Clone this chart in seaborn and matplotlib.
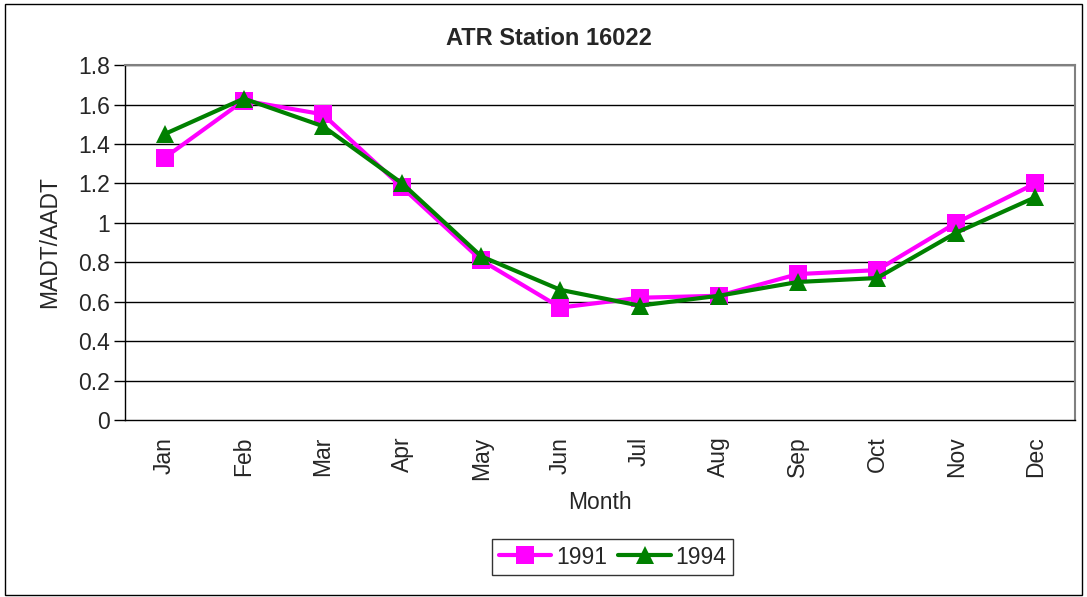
import numpy as np
import pandas as pd
import matplotlib
matplotlib.use("Agg")
import matplotlib.pyplot as plt
import seaborn as sns
from matplotlib.patches import Rectangle

months = ["Jan", "Feb", "Mar", "Apr", "May", "Jun",
          "Jul", "Aug", "Sep", "Oct", "Nov", "Dec"]
vals_1991 = [1.33, 1.62, 1.55, 1.18, 0.81, 0.57, 0.62, 0.63, 0.74, 0.76, 1.00, 1.20]
vals_1994 = [1.45, 1.63, 1.49, 1.20, 0.83, 0.66, 0.58, 0.63, 0.70, 0.72, 0.95, 1.13]
years = ["1991", "1994"]
y_ticks = [0, 0.2, 0.4, 0.6, 0.8, 1, 1.2, 1.4, 1.6, 1.8]
y_tick_labels = ["0", "0.2", "0.4", "0.6", "0.8", "1", "1.2", "1.4", "1.6", "1.8"]

df = pd.DataFrame({
    "Month": months * 2,
    "value": vals_1991 + vals_1994,
    "year": [years[0]] * 12 + [years[1]] * 12,
})
df["pos"] = list(range(12)) * 2

sns.set_style("white")
plt.rcParams["font.family"] = ["Liberation Sans", "DejaVu Sans"]
fs = 16.5

fig = plt.figure(figsize=(10.87, 5.97), dpi=100)
ax = fig.add_axes([0.115, 0.2965, 0.874, 0.5945])

# gridlines behind the data
for yv in y_ticks[1:]:
    ax.axhline(yv, color="black", lw=1, zorder=0)

sns.lineplot(data=df, x="pos", y="value", hue="year", style="year",
             palette={"1991": "#FF00FF", "1994": "#008000"},
             markers={"1991": "s", "1994": "^"}, dashes=False,
             lw=3, markersize=13, markeredgewidth=0, sort=False,
             ax=ax, legend=True)

ax.set_xlim(-0.5, 11.5)
ax.set_ylim(0, 1.8)
ax.set_yticks(y_ticks)
ax.set_yticklabels(y_tick_labels, fontsize=fs)
ax.set_xticks(range(12))
ax.set_xticklabels(months, rotation=90, fontsize=fs)
ax.set_xticks(np.arange(-0.5, 12, 1), minor=True)
ax.tick_params(axis="x", which="major", length=0, pad=12)
ax.tick_params(axis="x", which="minor", length=6, width=1, color="black", direction="out")
ax.tick_params(axis="y", length=8, width=1, color="black", direction="out", left=True, pad=3)

ax.set_xlabel("Month", fontsize=fs, labelpad=8)
ax.set_ylabel("MADT/AADT", fontsize=fs, labelpad=12)
# title is centred on the whole chart, not on the plot area
fig.text(0.505, 0.935, "ATR Station 16022", fontsize=17, fontweight="bold",
         ha="center", va="center")

for side in ["left", "bottom"]:
    ax.spines[side].set_color("black")
    ax.spines[side].set_linewidth(1)
for side in ["top", "right"]:
    ax.spines[side].set_visible(True)
    ax.spines[side].set_color("#808080")
    ax.spines[side].set_linewidth(1.5)

handles, labels = ax.get_legend_handles_labels()
ax.get_legend().remove()
leg = fig.legend(handles, labels, loc="center", bbox_to_anchor=(0.5635, 0.067),
                 ncol=2, fontsize=fs, frameon=True, fancybox=False,
                 handlelength=2.3, columnspacing=0.5, handletextpad=0.2,
                 borderpad=0.3, borderaxespad=0)
leg.get_frame().set_edgecolor("black")
leg.get_frame().set_linewidth(1)

fig.patches.append(Rectangle((0.005, 0.003), 0.99, 0.99, transform=fig.transFigure,
                             fill=False, edgecolor="black", lw=1))

fig.savefig("out.png", dpi=100)
